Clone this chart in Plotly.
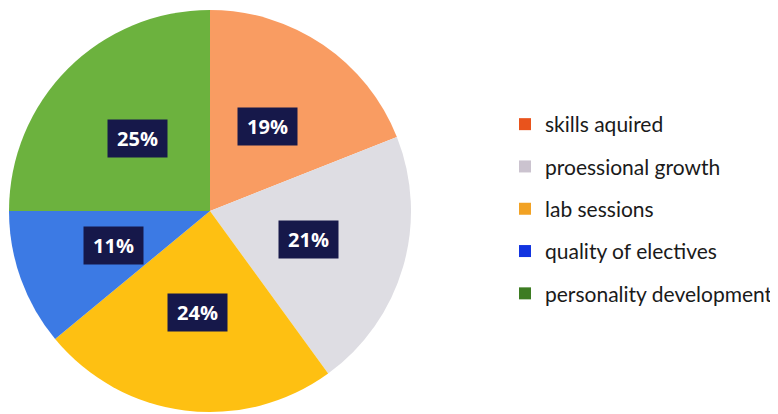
import math
import plotly.graph_objects as go

categories = ["skills aquired", "proessional growth", "lab sessions",
              "quality of electives", "personality development"]
values = [19, 21, 24, 11, 25]
pie_colors = ["#F99C62", "#DEDDE3", "#FEC012", "#3C7AE4", "#6CB23E"]
legend_colors = ["#E9531C", "#CBC3CF", "#F2A224", "#1234E0", "#3D7C22"]

W, H = 778, 414
OFF = 8  # page body margin
# pie geometry (page pixels)
cx, cy, R = 210 - OFF, 211 - OFF, 201

fig = go.Figure()
fig.add_trace(go.Pie(
    labels=categories, values=values, sort=False, direction="clockwise",
    rotation=0, marker=dict(colors=pie_colors, line=dict(width=0)),
    textinfo="none", hoverinfo="label+percent", showlegend=False,
    domain=dict(x=[(cx - R) / W, (cx + R) / W], y=[(H - cy - R) / H, (H - cy + R) / H]),
))

# legend via dummy traces
for i, (name, col) in enumerate(zip(categories, legend_colors)):
    fig.add_trace(go.Scatter(x=[None], y=[None], mode="markers", name=name,
                             legendgroup=f"g{i}",
                             marker=dict(symbol="square", size=12, color=col)))

total = sum(values)
cum = 0
for v in values:
    mid = (cum + v / 2) / total * 2 * math.pi
    cum += v
    r = 0.51 * R
    px = cx + r * math.sin(mid)
    py = cy - r * math.cos(mid)
    fig.add_annotation(
        x=px / W, y=1 - py / H, xref="paper", yref="paper",
        xanchor="center", yanchor="middle",
        text=f"<b>{round(v / total * 100)}%</b>", showarrow=False,
        font=dict(family="Open Sans, Arial", size=20, color="white"),
        bgcolor="#16184A", width=57, height=35, borderpad=1,
    )

fig.update_layout(
    width=W, height=H, margin=dict(l=0, r=0, t=0, b=0),
    paper_bgcolor="white", plot_bgcolor="white",
    xaxis=dict(visible=False), yaxis=dict(visible=False),
    legend=dict(x=(505 - OFF) / W, y=1 - (104 - OFF) / H, xanchor="left", yanchor="top",
                font=dict(family="Lato, Open Sans, Arial", size=21, color="#1A1A1A"),
                itemsizing="constant", tracegroupgap=12, bgcolor="rgba(0,0,0,0)"),
    showlegend=True,
)
fig.write_html("out.html")
